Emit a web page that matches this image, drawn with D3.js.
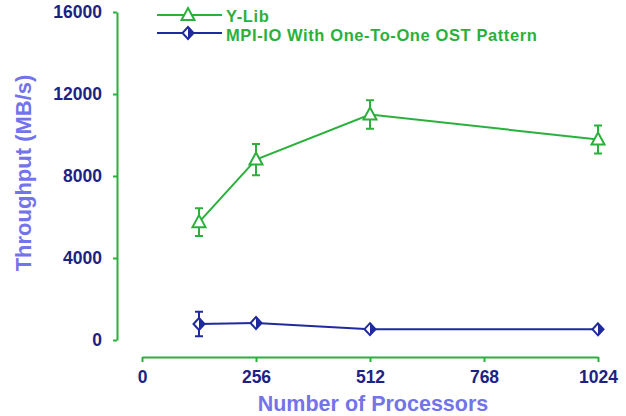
<!DOCTYPE html>
<html><head><meta charset="utf-8">
<script src="https://cdn.jsdelivr.net/npm/d3@7"></script>
<style>body{margin:0;background:#fff}svg{display:block}</style>
</head><body>
<svg id="c" width="626" height="416"></svg>
<script>
const processors = [128, 256, 512, 1024];
const ylibValues = [5750, 8800, 11000, 9780];
const ylibErrors = [680, 760, 700, 680];
const mpiValues = [780, 830, 530, 520];
const mpiErrors = [600, 0, 0, 0];
const xTicks = [0, 256, 512, 768, 1024];
const yTicks = [0, 4000, 8000, 12000, 16000];
const seriesNames = ["Y-Lib", "MPI-IO With One-To-One OST Pattern"];

const GREEN = "#2bb03c", BLUE = "#1f2a9e", TICK = "#1c2383", TITLE = "#7373ea";
const svg = d3.select("#c");
const x = d3.scaleLinear().domain([0, 1024]).range([142, 598]);
const y = d3.scaleLinear().domain([0, 16000]).range([340, 12]);
const font = "'Liberation Sans', Arial, sans-serif";

// y axis
const ya = svg.append("g").attr("transform", "translate(117,0)")
  .call(d3.axisLeft(y).tickValues(yTicks).tickSize(4).tickSizeOuter(0).tickPadding(11).tickFormat(d3.format("d")));
// x axis
const xa = svg.append("g").attr("transform", "translate(0,357)")
  .call(d3.axisBottom(x).tickValues(xTicks).tickSize(5).tickSizeOuter(0).tickPadding(9).tickFormat(d3.format("d")));
[ya, xa].forEach(g => {
  g.select(".domain").attr("stroke", GREEN).attr("stroke-width", 2);
  g.selectAll(".tick line").attr("stroke", GREEN).attr("stroke-width", 2);
  g.selectAll(".tick text").attr("fill", TICK).attr("font-family", font)
    .attr("font-weight", "bold").attr("font-size", 17.5);
});

// titles
svg.append("text").attr("x", 373).attr("y", 411).attr("text-anchor", "middle")
  .attr("font-family", font).attr("font-weight", "bold").attr("font-size", 21.5)
  .attr("fill", TITLE).text("Number of Processors");
svg.append("text").attr("transform", "translate(31,173) rotate(-90)").attr("text-anchor", "middle")
  .attr("font-family", font).attr("font-weight", "bold").attr("font-size", 22)
  .attr("fill", TITLE).text("Throughput (MB/s)");

const line = d3.line().x(d => x(d[0])).y(d => y(d[1]));

function triangle(g, cx, cy) {
  g.append("path").attr("d", `M${cx},${cy-7}L${cx+6.5},${cy+5}L${cx-6.5},${cy+5}Z`)
    .attr("fill", "#fff").attr("stroke", GREEN).attr("stroke-width", 2);
}
function diamond(g, cx, cy) {
  g.append("path").attr("d", `M${cx},${cy-6}L${cx+5.5},${cy}L${cx},${cy+6}L${cx-5.5},${cy}Z`)
    .attr("fill", "#fff").attr("stroke", BLUE).attr("stroke-width", 2);
  g.append("path").attr("d", `M${cx},${cy-6}L${cx+5.5},${cy}L${cx},${cy+6}Z`).attr("fill", BLUE);
}
function errbars(g, vals, errs, color) {
  vals.forEach((v, i) => {
    if (!errs[i]) return;
    const cx = x(processors[i]), y1 = y(v + errs[i]), y0 = y(v - errs[i]);
    g.append("path").attr("d", `M${cx},${y1}V${y0}M${cx-4},${y1}H${cx+4}M${cx-4},${y0}H${cx+4}`)
      .attr("stroke", color).attr("stroke-width", 2).attr("fill", "none");
  });
}

const g1 = svg.append("g");
g1.append("path").attr("d", line(processors.map((p, i) => [p, ylibValues[i]])))
  .attr("fill", "none").attr("stroke", GREEN).attr("stroke-width", 2);
errbars(g1, ylibValues, ylibErrors, GREEN);
processors.forEach((p, i) => triangle(g1, x(p), y(ylibValues[i])));

const g2 = svg.append("g");
g2.append("path").attr("d", line(processors.map((p, i) => [p, mpiValues[i]])))
  .attr("fill", "none").attr("stroke", BLUE).attr("stroke-width", 2);
errbars(g2, mpiValues, mpiErrors, BLUE);
processors.forEach((p, i) => diamond(g2, x(p), y(mpiValues[i])));

// legend
const lg = svg.append("g");
[[15, 22, GREEN, triangle], [33, 41, BLUE, diamond]].forEach(([ly, ty, col, mk], i) => {
  lg.append("line").attr("x1", 157).attr("x2", 222).attr("y1", ly).attr("y2", ly)
    .attr("stroke", col).attr("stroke-width", 2);
  mk(lg, 188, ly);
  lg.append("text").attr("x", 226).attr("y", ty).attr("font-family", font)
    .attr("font-weight", "bold").attr("font-size", 16.5).attr("letter-spacing", 0.6)
    .attr("fill", GREEN).text(seriesNames[i]);
});
</script>
</body></html>
